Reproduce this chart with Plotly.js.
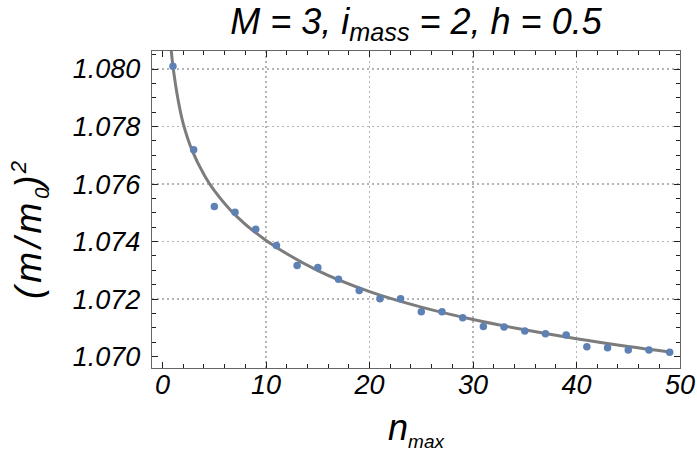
<!DOCTYPE html>
<html>
<head>
<meta charset="utf-8">
<script src="https://cdn.plot.ly/plotly-3.0.1.min.js"></script>
<style>html,body{margin:0;padding:0;background:#fff;}#chart{width:697px;height:452px;}</style>
</head>
<body>
<div id="chart"></div>
<script>
// Data points (n_max, (m/m0)^2)
const nMax = [1,3,5,7,9,11,13,15,17,19,21,23,25,27,29,31,33,35,37,39,41,43,45,47,49];
const massSq = [1.0801,1.07719,1.07522,1.07502,1.07443,1.07386,1.07317,1.07310,1.07269,1.07230,
                1.07201,1.07201,1.07156,1.07156,1.07135,1.07105,1.07103,1.07089,1.07079,1.07075,
                1.07034,1.07031,1.07023,1.07023,1.07015];
// Fit curve
const fitN   = [0.8, 1, 1.5, 2, 2.85, 4.06, 5, 7, 10, 15, 20, 25, 30, 35, 40, 45, 49];
const fitVal = [1.08077, 1.0801, 1.07892, 1.07809, 1.07717, 1.07629, 1.07577, 1.07493, 1.07404,
                1.07299, 1.07226, 1.07172, 1.07129, 1.07093, 1.07062, 1.07035, 1.07016];
// Axis ticks and grid positions
const xTicks = [0,10,20,30,40,50];
const xTickText = ['0','10','20','30','40','50'];
const yTicks = [1.070,1.072,1.074,1.076,1.078,1.080];
const yTickText = ['1.070','1.072','1.074','1.076','1.078','1.080'];
const xGrid = [10,20,30,40];
const yGrid = [1.072,1.074,1.076,1.078,1.080];

const xRange = [-1.024, 50];
const yRange = [1.069603, 1.080627];
const fontFam = '"Liberation Sans", Arial, Helvetica, sans-serif';
const subStyle = 'font-size:19px';

const traces = [
  {x: fitN, y: fitVal, type: 'scatter', mode: 'lines',
   line: {color: '#7c7c7c', width: 3, shape: 'spline', smoothing: 1},
   hoverinfo: 'skip', showlegend: false},
  {x: nMax, y: massSq, type: 'scatter', mode: 'markers',
   marker: {color: '#5E81B5', size: 7.5}, showlegend: false},
  {x: [], y: [], xaxis: 'x2', yaxis: 'y2', type: 'scatter', mode: 'markers', showlegend: false, hoverinfo: 'skip'}
];

const gridStyle = {gridcolor: '#b4b4b4', gridwidth: 1.4, griddash: '1.5px,3.5px'};

const layout = {
  width: 697, height: 452,
  margin: {l: 151.7, r: 17.3, t: 51, b: 84.3, pad: 0},
  paper_bgcolor: '#fff', plot_bgcolor: '#fff',
  font: {family: fontFam, color: '#000'},
  title: {text: 'M = 3, i<sub>mass</sub> = 2, h = 0.5',
          font: {family: fontFam, size: 36, style: 'italic', color: '#000'},
          x: 0.5, xref: 'paper', xanchor: 'center', y: 0.953, yref: 'container', yanchor: 'middle'},
  xaxis: {range: xRange, tickvals: xTicks, ticktext: xTickText, showgrid: false, zeroline: false,
          ticks: 'inside', ticklen: 6, tickwidth: 1, tickcolor: '#222',
          showline: true, linecolor: '#666', linewidth: 1.2, mirror: 'ticks',
          tickfont: {family: fontFam, size: 27, style: 'italic', color: '#000'},
          ticklabelstandoff: -8,
          minor: {dtick: 2, ticks: 'inside', ticklen: 4, tickcolor: '#222', showgrid: false},
          title: {text: 'n<sub><span style="' + subStyle + '">max</span></sub>',
                  font: {family: fontFam, size: 36, style: 'italic', color: '#000'}, standoff: 20}},
  yaxis: {range: yRange, tickvals: yTicks, ticktext: yTickText, showgrid: false, zeroline: false,
          ticks: 'inside', ticklen: 6, tickwidth: 1, tickcolor: '#222',
          showline: true, linecolor: '#666', linewidth: 1.2, mirror: 'ticks',
          tickfont: {family: fontFam, size: 27, style: 'italic', color: '#000'},
          ticklabelstandoff: 5,
          minor: {dtick: 0.0005, tick0: 1.07, ticks: 'inside', ticklen: 4, tickcolor: '#222', showgrid: false},
          title: {text: '<span style="letter-spacing:4px">(m/m</span><sub><span style="font-size:20px">0</span></sub><span style="letter-spacing:2px">)</span><sup><span style="font-size:22px">2</span></sup>&nbsp;&nbsp;&nbsp;&nbsp;',
                  font: {family: fontFam, size: 37, style: 'italic', color: '#000'}, standoff: 19}},
  xaxis2: Object.assign({range: xRange, overlaying: 'x', anchor: 'y2', tickvals: xGrid, showgrid: true,
          showticklabels: false, ticks: '', zeroline: false, showline: false}, gridStyle),
  yaxis2: Object.assign({range: yRange, overlaying: 'y', anchor: 'x2', tickvals: yGrid, showgrid: true,
          showticklabels: false, ticks: '', zeroline: false, showline: false}, gridStyle)
};

Plotly.newPlot('chart', traces, layout, {displayModeBar: false, staticPlot: true});
</script>
</body>
</html>
